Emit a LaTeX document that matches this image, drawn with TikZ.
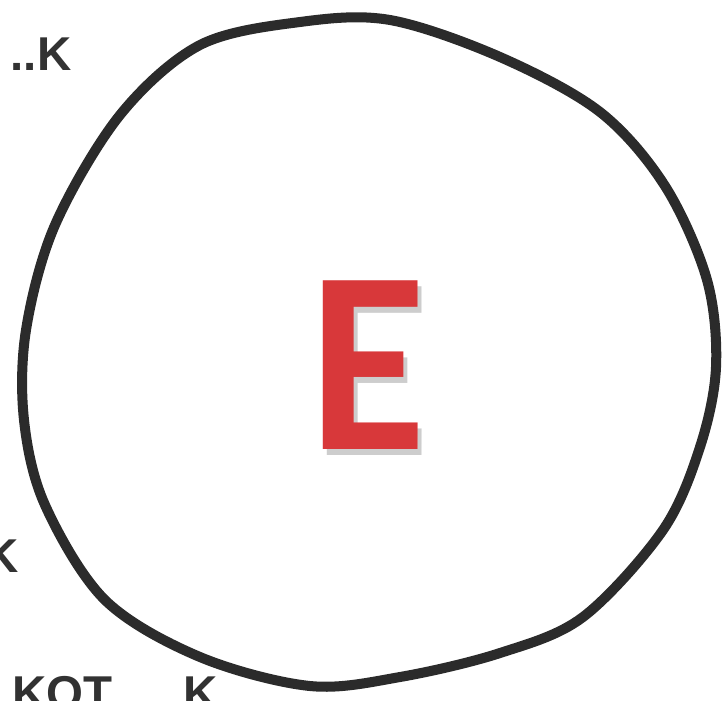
\documentclass[tikz,border=0pt]{standalone}
\usepackage{fontspec}
\usepackage{xcolor}
\usepackage{tikz}
\usetikzlibrary{positioning, calc}
\newfontfamily\labelfont{Liberation Sans}
\newfontfamily\letterfont{Carlito}
\definecolor{penblack}{RGB}{43,43,43}
\definecolor{labelgray}{RGB}{50,50,50}
\definecolor{letterred}{RGB}{216,56,58}
\definecolor{shadowgray}{RGB}{90,90,90}
\tikzset{
    % hand drawn ring
    ringline/.style={draw=penblack, line width=0.1cm, line join=round},
    % small labels round the ring
    edgelabel/.style={font=\labelfont\bfseries\fontsize{13.5}{14}\selectfont, text=labelgray, inner sep=0pt},
    % big letter in the middle
    bigletter/.style={font=\letterfont\bfseries\fontsize{74}{80}\selectfont, text=letterred, inner sep=0pt},
    lettershadow/.style={font=\letterfont\bfseries\fontsize{74}{80}\selectfont, text=shadowgray, opacity=0.3, inner sep=0pt},
}

\begin{document}
\begin{tikzpicture}[x=0.01cm, y=-0.01cm]

\useasboundingbox (0,0) rectangle (725,700);

% ============================================================
% Ring
% ============================================================
\draw[ringline] plot[smooth cycle, tension=0.55] coordinates {
    (120,115) (200,45) (300,22) (390,20) (500,57) (600,112)
    (665,186) (707,280) (716,367) (700,447) (663,530)
    (583,617) (500,653) (400,677) (310,686) (200,657)
    (105,600) (45,505) (24,420) (26,330) (55,225)};

% ============================================================
% Letter
% ============================================================
\node[lettershadow] (Eshadow) at (372,371) {\scalebox{0.92}[1]{E}};
\node[bigletter] (Eletter) at (368,365) {\scalebox{0.92}[1]{E}};

% ============================================================
% Labels
% ============================================================
\node[edgelabel, anchor=base east] (topK) at (72,70) {..K};
\node[edgelabel, anchor=base east] (leftK) at (19,572) {K};
\node[edgelabel, anchor=base west] (bottomword) at (12,709) {KOT ... K};

\end{tikzpicture}
\end{document}
